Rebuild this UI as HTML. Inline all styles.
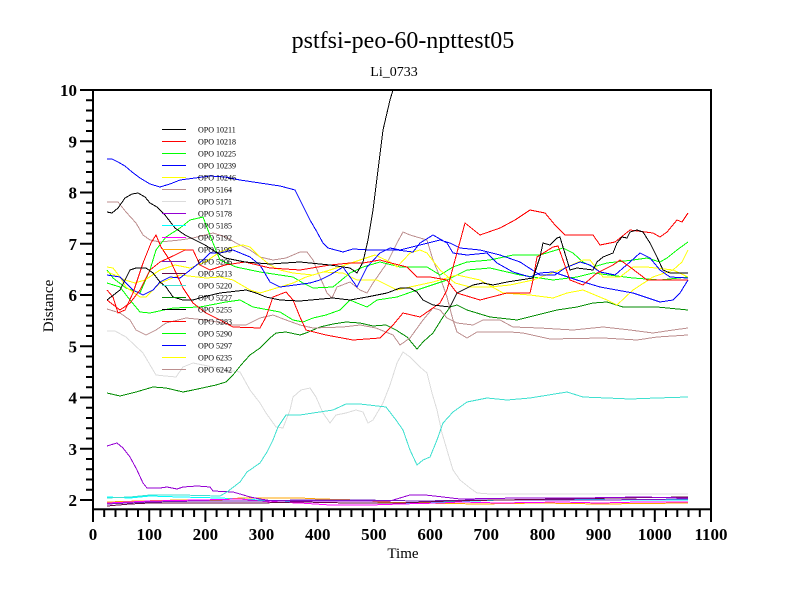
<!DOCTYPE html>
<html>
<head>
<meta charset="utf-8">
<style>
html,body{margin:0;padding:0;background:#fff;}
svg{display:block;}
text{font-family:"Liberation Serif","DejaVu Serif",serif;}
</style>
</head>
<body>
<svg width="800" height="600" viewBox="0 0 800 600" xmlns="http://www.w3.org/2000/svg">
<rect x="0" y="0" width="800" height="600" fill="#fff"/>
<defs>
<clipPath id="pa"><rect x="93" y="90" width="618" height="419"/></clipPath>
</defs>

<!-- titles -->
<text x="403" y="48" font-size="24" text-anchor="middle" fill="#000">pstfsi-peo-60-npttest05</text>
<text x="394" y="76" font-size="14" text-anchor="middle" fill="#000">Li_0733</text>

<!-- data -->
<g clip-path="url(#pa)" fill="none" stroke-width="1" stroke-linejoin="round" shape-rendering="crispEdges">
<!-- bottom cluster -->
<polyline stroke="#00ffff" points="107,497 130,498 150,496 180,497 220,498 260,500 300,502 350,503 400,503 450,502 500,500 560,499 620,500 688,500"/>
<polyline stroke="#ffa500" points="107,502 140,501 180,500 220,500 240,498 300,498 320,499 360,500 380,502 420,503 480,504 540,503 600,504 688,503"/>
<polyline stroke="#ff00ff" points="107,503 150,501 200,500 240,499 270,502 300,503 330,505 370,505 400,504 440,503 460,502 500,503 560,502 600,503 640,502 688,502"/>
<polyline stroke="#7221bc" points="107,504 150,502 200,501 260,501 300,500 360,500 420,501 480,500 540,500 600,500 688,499"/>
<polyline stroke="#670748" points="107,506 130,504 150,503 200,503 260,503 300,502 350,503 400,503 450,501 500,500 560,499 620,498 688,497"/>
<polyline stroke="#9400d3" points="107,446 117,443 123,448 130,457 137,470 143,483 147,488 160,488 167,487 177,489 183,487 197,486 210,487 213,491 233,492 240,494 250,497 260,499 273,501 300,501 340,501 390,501 400,498 410,495 425,495 443,497 460,499 520,498 580,498 640,497 688,498"/>
<!-- light gray -->
<polyline stroke="#dcdcdc" points="107,331 115,331 126,337 143,353 156,375 165,376 176,377 183,367 193,363 203,365 213,367 226,370 240,372 250,390 260,403 266,413 276,427 283,428 290,410 293,397 301,390 310,388 316,397 323,413 330,423 336,415 346,413 356,410 363,412 368,423 373,420 383,403 390,385 397,363 403,352 410,357 420,367 427,373 432,393 437,410 442,433 447,450 453,470 460,480 470,488 477,493 490,494 550,494 620,494 688,494"/>
<!-- turquoise -->
<polyline stroke="#40e0d0" points="107,498 130,497 150,495 180,495 220,496 227,492 240,482 247,472 260,463 267,452 273,440 278,427 286,415 300,415 313,413 333,410 346,404 360,404 386,407 396,420 403,430 410,450 417,465 423,460 430,457 437,440 443,423 453,412 467,402 487,398 507,400 530,398 567,392 583,397 607,398 630,399 657,398 688,397"/>
<!-- dark green -->
<polyline stroke="#008b00" points="107,393 120,396 136,392 153,387 166,388 183,392 193,390 216,385 226,382 233,375 241,365 250,355 260,348 270,338 276,333 286,332 300,335 306,333 320,327 333,324 346,322 360,323 373,326 386,325 396,330 407,337 417,349 423,342 433,333 443,317 450,307 457,305 467,310 490,317 517,320 533,316 557,310 577,307 593,303 607,302 623,307 657,307 688,310"/>
<!-- browns -->
<polyline stroke="#bc8f8f" points="107,202 118,202 126,212 136,223 143,235 150,240 160,242 180,240 193,238 213,233 226,237 236,243 250,250 260,257 273,260 286,258 300,252 307,252 313,260 320,277 327,293 332,298 337,287 350,282 360,290 367,293 373,283 387,263 397,243 403,232 410,235 427,240 433,260 440,277 447,297 453,320 457,332 467,338 477,332 510,332 523,333 550,339 603,338 637,340 657,337 688,335"/>
<polyline stroke="#bc8f8f" points="107,309 120,313 130,320 136,330 146,335 156,330 166,323 186,318 206,320 233,325 246,325 260,318 273,315 286,320 300,325 313,328 343,327 360,325 376,328 393,335 400,345 410,338 423,320 433,308 440,310 447,318 457,323 473,325 483,320 500,320 513,327 540,328 573,330 603,327 630,330 653,333 673,330 688,328"/>
<!-- greens -->
<polyline stroke="#00ff00" points="107,270 113,278 126,288 140,293 150,270 156,250 166,237 180,228 190,220 203,217 208,230 213,243 220,260 236,267 260,272 293,277 303,283 313,288 333,287 350,273 363,267 380,262 400,267 427,267 440,275 453,267 467,262 490,260 513,255 540,255 563,248 573,253 583,262 593,267 607,263 633,260 647,258 660,262 667,258 677,250 688,242"/>
<polyline stroke="#00ff00" points="107,283 120,287 130,300 140,312 150,313 173,308 200,307 226,302 240,300 253,307 280,312 293,320 303,322 313,318 326,315 340,310 350,300 357,303 367,307 377,300 397,297 417,290 447,280 467,270 490,268 520,275 553,280 577,277 593,273 633,278 660,280 688,277"/>
<!-- yellows -->
<polyline stroke="#ffff00" points="107,267 113,268 120,277 126,287 140,297 146,297 153,290 160,283 180,275 206,278 220,277 233,280 250,290 260,293 280,287 293,283 306,277 323,272 343,273 357,280 377,280 397,290 410,287 433,282 457,275 480,280 503,293 530,295 553,298 567,293 583,290 607,300 617,305 633,290 653,277 673,270 682,262 688,250"/>
<polyline stroke="#ffff00" points="107,272 115,275 125,280 135,283 145,280 160,270 175,265 190,268 205,262 220,252 233,247 243,245 250,247 260,257 270,265 280,270 293,273 313,275 330,270 345,265 360,260 375,255 390,262 397,267 410,253 420,250 427,253 440,270 455,283 470,287 490,287 510,285 533,280 560,270 583,260 590,260 603,277 620,277 633,267 647,267 673,270 688,277"/>
<!-- blues -->
<polyline stroke="#0000ff" points="107,159 112,159 118,162 125,166 132,172 140,178 150,184 160,187 170,184 180,180 195,178 210,176 225,177 240,180 260,183 280,186 295,190 300,200 310,220 317,232 323,243 328,248 343,252 353,249 370,250 397,250 413,252 420,243 433,235 447,243 453,253 467,255 487,253 497,263 513,272 530,277 540,273 553,272 577,280 600,287 633,293 660,302 673,300 680,293 688,280"/>
<polyline stroke="#0000ff" points="107,275 120,277 133,290 143,295 153,290 160,282 170,277 180,278 203,260 210,253 220,253 233,250 250,257 260,265 270,282 280,287 295,285 310,283 320,280 330,275 343,267 357,287 367,267 380,253 390,248 400,250 420,245 440,240 450,243 460,248 480,250 500,255 520,262 540,275 555,275 565,268 580,262 590,265 600,272 615,275 630,262 640,253 650,258 660,270 670,277 688,278"/>
<!-- reds -->
<polyline stroke="#ff0000" points="107,290 113,297 118,313 125,310 133,293 143,263 151,243 156,235 161,247 171,262 183,288 193,303 206,313 220,320 233,327 260,328 266,317 273,297 286,292 293,300 300,317 306,330 326,335 353,340 380,338 393,325 403,313 420,317 440,303 447,290 455,260 465,223 480,235 500,228 515,220 530,210 545,213 555,225 565,235 593,235 600,245 615,242 630,230 653,233 660,237 667,232 677,220 682,222 688,213"/>
<polyline stroke="#ff0000" points="107,300 120,310 130,303 140,290 150,270 160,262 175,255 185,250 193,250 200,265 210,270 225,265 245,262 270,268 300,270 330,265 350,263 363,263 380,260 387,262 407,267 417,277 430,277 447,280 457,293 480,300 507,293 530,293 533,280 537,257 553,247 558,246 563,260 570,280 583,285 597,273 613,265 620,260 630,267 647,280 688,280"/>
<!-- blacks -->
<polyline stroke="#000000" points="107,300 120,290 130,270 136,268 146,268 153,273 160,282 166,287 173,297 183,300 193,300 203,297 220,293 246,290 256,293 266,297 280,300 300,301 333,298 350,300 367,297 387,293 400,288 410,288 417,292 423,300 433,305 450,307 457,293 463,290 473,285 483,283 493,285 507,282 520,280 533,278 540,257 543,243 550,245 557,238 560,237 563,247 567,260 570,270 577,268 593,270 597,262 603,257 613,253 617,243 622,237 627,238 630,232 637,230 643,232 650,243 657,257 663,270 670,273 688,273"/>
<polyline stroke="#000000" points="107,212 112,213 118,208 125,198 132,194 138,193 145,197 150,203 157,207 165,215 175,228 185,235 205,245 225,258 245,262 270,264 300,262 330,265 350,268 357,273 363,262 368,240 373,210 378,170 383,130 390,100 396,80"/>
</g>

<!-- legend -->
<g stroke-width="1" font-size="8" fill="#000">
<line x1="162" y1="129.5" x2="186" y2="129.5" stroke="#000000"/><text x="198" y="132.5">OPO 10211</text>
<line x1="162" y1="141.5" x2="186" y2="141.5" stroke="#ff0000"/><text x="198" y="144.5">OPO 10218</text>
<line x1="162" y1="153.5" x2="186" y2="153.5" stroke="#00ff00"/><text x="198" y="156.5">OPO 10225</text>
<line x1="162" y1="165.5" x2="186" y2="165.5" stroke="#0000ff"/><text x="198" y="168.5">OPO 10239</text>
<line x1="162" y1="177.5" x2="186" y2="177.5" stroke="#ffff00"/><text x="198" y="180.5">OPO 10246</text>
<line x1="162" y1="189.5" x2="186" y2="189.5" stroke="#bc8f8f"/><text x="198" y="192.5">OPO 5164</text>
<line x1="162" y1="201.5" x2="186" y2="201.5" stroke="#dcdcdc"/><text x="198" y="204.5">OPO 5171</text>
<line x1="162" y1="213.5" x2="186" y2="213.5" stroke="#9400d3"/><text x="198" y="216.5">OPO 5178</text>
<line x1="162" y1="225.5" x2="186" y2="225.5" stroke="#00ffff"/><text x="198" y="228.5">OPO 5185</text>
<line x1="162" y1="237.5" x2="186" y2="237.5" stroke="#ff00ff"/><text x="198" y="240.5">OPO 5192</text>
<line x1="162" y1="249.5" x2="186" y2="249.5" stroke="#ffa500"/><text x="198" y="252.5">OPO 5199</text>
<line x1="162" y1="261.5" x2="186" y2="261.5" stroke="#7221bc"/><text x="198" y="264.5">OPO 5206</text>
<line x1="162" y1="273.5" x2="186" y2="273.5" stroke="#670748"/><text x="198" y="276.5">OPO 5213</text>
<line x1="162" y1="285.5" x2="186" y2="285.5" stroke="#40e0d0"/><text x="198" y="288.5">OPO 5220</text>
<line x1="162" y1="297.5" x2="186" y2="297.5" stroke="#008b00"/><text x="198" y="300.5">OPO 5227</text>
<line x1="162" y1="309.5" x2="186" y2="309.5" stroke="#000000"/><text x="198" y="312.5">OPO 5255</text>
<line x1="162" y1="321.5" x2="186" y2="321.5" stroke="#ff0000"/><text x="198" y="324.5">OPO 5283</text>
<line x1="162" y1="333.5" x2="186" y2="333.5" stroke="#00ff00"/><text x="198" y="336.5">OPO 5290</text>
<line x1="162" y1="345.5" x2="186" y2="345.5" stroke="#0000ff"/><text x="198" y="348.5">OPO 5297</text>
<line x1="162" y1="357.5" x2="186" y2="357.5" stroke="#ffff00"/><text x="198" y="360.5">OPO 6235</text>
<line x1="162" y1="369.5" x2="186" y2="369.5" stroke="#bc8f8f"/><text x="198" y="372.5">OPO 6242</text>
</g>

<!-- frame -->
<rect x="93" y="90" width="618" height="419.3" fill="none" stroke="#000" stroke-width="2"/>

<!-- y ticks -->
<g stroke="#000" stroke-width="2">
<line x1="80" y1="90" x2="93" y2="90"/>
<line x1="86" y1="100.25" x2="93" y2="100.25"/><line x1="86" y1="110.5" x2="93" y2="110.5"/><line x1="86" y1="120.75" x2="93" y2="120.75"/><line x1="86" y1="131" x2="93" y2="131"/>
<line x1="80" y1="141.25" x2="93" y2="141.25"/>
<line x1="86" y1="151.5" x2="93" y2="151.5"/><line x1="86" y1="161.75" x2="93" y2="161.75"/><line x1="86" y1="172" x2="93" y2="172"/><line x1="86" y1="182.25" x2="93" y2="182.25"/>
<line x1="80" y1="192.5" x2="93" y2="192.5"/>
<line x1="86" y1="202.75" x2="93" y2="202.75"/><line x1="86" y1="213" x2="93" y2="213"/><line x1="86" y1="223.25" x2="93" y2="223.25"/><line x1="86" y1="233.5" x2="93" y2="233.5"/>
<line x1="80" y1="243.75" x2="93" y2="243.75"/>
<line x1="86" y1="254" x2="93" y2="254"/><line x1="86" y1="264.25" x2="93" y2="264.25"/><line x1="86" y1="274.5" x2="93" y2="274.5"/><line x1="86" y1="284.75" x2="93" y2="284.75"/>
<line x1="80" y1="295" x2="93" y2="295"/>
<line x1="86" y1="305.25" x2="93" y2="305.25"/><line x1="86" y1="315.5" x2="93" y2="315.5"/><line x1="86" y1="325.75" x2="93" y2="325.75"/><line x1="86" y1="336" x2="93" y2="336"/>
<line x1="80" y1="346.25" x2="93" y2="346.25"/>
<line x1="86" y1="356.5" x2="93" y2="356.5"/><line x1="86" y1="366.75" x2="93" y2="366.75"/><line x1="86" y1="377" x2="93" y2="377"/><line x1="86" y1="387.25" x2="93" y2="387.25"/>
<line x1="80" y1="397.5" x2="93" y2="397.5"/>
<line x1="86" y1="407.75" x2="93" y2="407.75"/><line x1="86" y1="418" x2="93" y2="418"/><line x1="86" y1="428.25" x2="93" y2="428.25"/><line x1="86" y1="438.5" x2="93" y2="438.5"/>
<line x1="80" y1="448.75" x2="93" y2="448.75"/>
<line x1="86" y1="459" x2="93" y2="459"/><line x1="86" y1="469.25" x2="93" y2="469.25"/><line x1="86" y1="479.5" x2="93" y2="479.5"/><line x1="86" y1="489.75" x2="93" y2="489.75"/>
<line x1="80" y1="500" x2="93" y2="500"/>
</g>
<!-- x ticks -->
<g stroke="#000" stroke-width="2">
<line x1="93" y1="509" x2="93" y2="522"/>
<line x1="104.2" y1="509" x2="104.2" y2="517"/><line x1="115.5" y1="509" x2="115.5" y2="517"/><line x1="126.7" y1="509" x2="126.7" y2="517"/><line x1="138" y1="509" x2="138" y2="517"/>
<line x1="149.2" y1="509" x2="149.2" y2="522"/>
<line x1="160.4" y1="509" x2="160.4" y2="517"/><line x1="171.7" y1="509" x2="171.7" y2="517"/><line x1="182.9" y1="509" x2="182.9" y2="517"/><line x1="194.1" y1="509" x2="194.1" y2="517"/>
<line x1="205.4" y1="509" x2="205.4" y2="522"/>
<line x1="216.6" y1="509" x2="216.6" y2="517"/><line x1="227.8" y1="509" x2="227.8" y2="517"/><line x1="239.1" y1="509" x2="239.1" y2="517"/><line x1="250.3" y1="509" x2="250.3" y2="517"/>
<line x1="261.5" y1="509" x2="261.5" y2="522"/>
<line x1="272.8" y1="509" x2="272.8" y2="517"/><line x1="284" y1="509" x2="284" y2="517"/><line x1="295.3" y1="509" x2="295.3" y2="517"/><line x1="306.5" y1="509" x2="306.5" y2="517"/>
<line x1="317.7" y1="509" x2="317.7" y2="522"/>
<line x1="329" y1="509" x2="329" y2="517"/><line x1="340.2" y1="509" x2="340.2" y2="517"/><line x1="351.4" y1="509" x2="351.4" y2="517"/><line x1="362.7" y1="509" x2="362.7" y2="517"/>
<line x1="373.9" y1="509" x2="373.9" y2="522"/>
<line x1="385.1" y1="509" x2="385.1" y2="517"/><line x1="396.4" y1="509" x2="396.4" y2="517"/><line x1="407.6" y1="509" x2="407.6" y2="517"/><line x1="418.9" y1="509" x2="418.9" y2="517"/>
<line x1="430.1" y1="509" x2="430.1" y2="522"/>
<line x1="441.3" y1="509" x2="441.3" y2="517"/><line x1="452.6" y1="509" x2="452.6" y2="517"/><line x1="463.8" y1="509" x2="463.8" y2="517"/><line x1="475" y1="509" x2="475" y2="517"/>
<line x1="486.3" y1="509" x2="486.3" y2="522"/>
<line x1="497.5" y1="509" x2="497.5" y2="517"/><line x1="508.7" y1="509" x2="508.7" y2="517"/><line x1="520" y1="509" x2="520" y2="517"/><line x1="531.2" y1="509" x2="531.2" y2="517"/>
<line x1="542.5" y1="509" x2="542.5" y2="522"/>
<line x1="553.7" y1="509" x2="553.7" y2="517"/><line x1="564.9" y1="509" x2="564.9" y2="517"/><line x1="576.2" y1="509" x2="576.2" y2="517"/><line x1="587.4" y1="509" x2="587.4" y2="517"/>
<line x1="598.6" y1="509" x2="598.6" y2="522"/>
<line x1="609.9" y1="509" x2="609.9" y2="517"/><line x1="621.1" y1="509" x2="621.1" y2="517"/><line x1="632.3" y1="509" x2="632.3" y2="517"/><line x1="643.6" y1="509" x2="643.6" y2="517"/>
<line x1="654.8" y1="509" x2="654.8" y2="522"/>
<line x1="666" y1="509" x2="666" y2="517"/><line x1="677.3" y1="509" x2="677.3" y2="517"/><line x1="688.5" y1="509" x2="688.5" y2="517"/><line x1="699.8" y1="509" x2="699.8" y2="517"/>
<line x1="711" y1="509" x2="711" y2="522"/>
</g>

<!-- y labels -->
<g font-size="17" font-weight="bold" text-anchor="end" fill="#000">
<text x="77" y="96">10</text>
<text x="77" y="147.25">9</text>
<text x="77" y="198.5">8</text>
<text x="77" y="249.75">7</text>
<text x="77" y="301">6</text>
<text x="77" y="352.25">5</text>
<text x="77" y="403.5">4</text>
<text x="77" y="454.75">3</text>
<text x="77" y="506">2</text>
</g>
<!-- x labels -->
<g font-size="17" font-weight="bold" text-anchor="middle" fill="#000">
<text x="93" y="540">0</text>
<text x="149.2" y="540">100</text>
<text x="205.4" y="540">200</text>
<text x="261.5" y="540">300</text>
<text x="317.7" y="540">400</text>
<text x="373.9" y="540">500</text>
<text x="430.1" y="540">600</text>
<text x="486.3" y="540">700</text>
<text x="542.5" y="540">800</text>
<text x="598.6" y="540">900</text>
<text x="654.8" y="540">1000</text>
<text x="711" y="540">1100</text>
</g>

<!-- axis titles -->
<text x="403" y="558" font-size="15" text-anchor="middle" fill="#000">Time</text>
<text x="0" y="0" font-size="15" text-anchor="middle" fill="#000" transform="translate(53,306) rotate(-90)">Distance</text>
</svg>
</body>
</html>
